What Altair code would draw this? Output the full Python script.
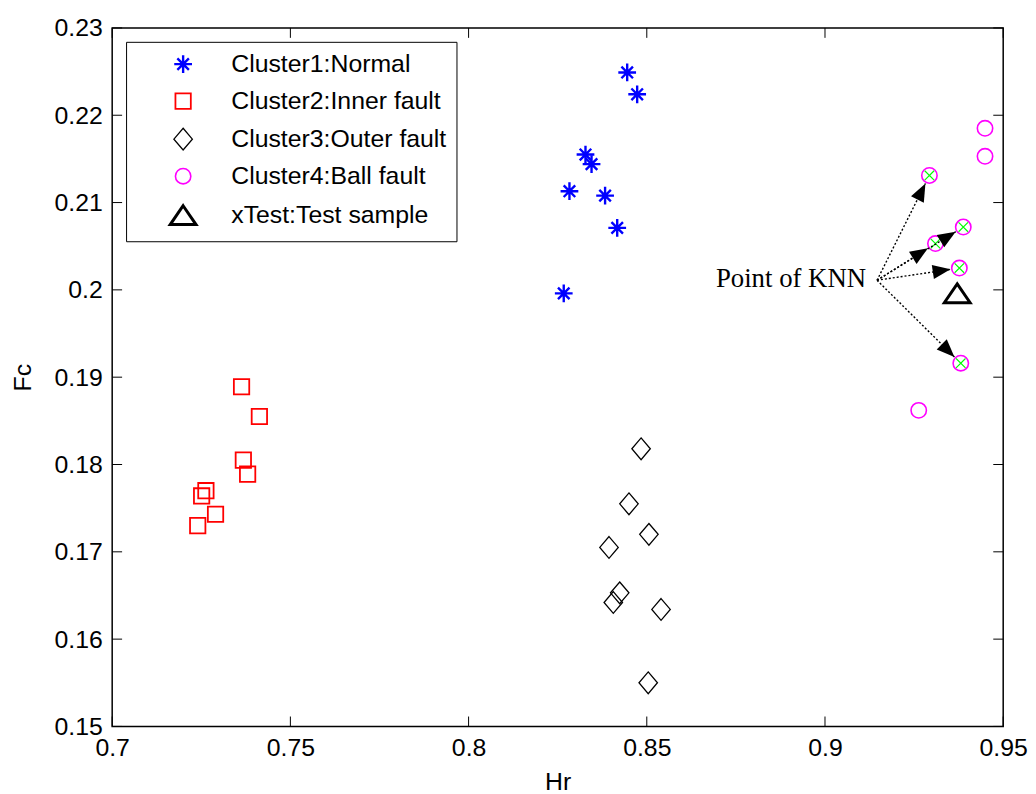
import math
import altair as alt
import pandas as pd

# ---------------- data ----------------
groups = ["Cluster1:Normal", "Cluster2:Inner fault", "Cluster3:Outer fault",
          "Cluster4:Ball fault", "xTest:Test sample"]

c1_x = [0.8445, 0.8473, 0.8328, 0.8345, 0.8283, 0.8383, 0.8417, 0.8267]
c1_y = [0.2249, 0.2224, 0.2155, 0.2144, 0.2113, 0.2108, 0.2071, 0.1996]
c2_x = [0.7363, 0.7413, 0.7368, 0.7380, 0.7263, 0.7251, 0.7290, 0.7240]
c2_y = [0.1889, 0.1855, 0.1805, 0.1789, 0.1770, 0.1764, 0.1743, 0.1730]
c3_x = [0.8484, 0.8450, 0.8506, 0.8394, 0.8424, 0.8406, 0.8540, 0.8504]
c3_y = [0.1818, 0.1755, 0.1720, 0.1705, 0.1653, 0.1642, 0.1634, 0.1550]
c4_x = [0.9449, 0.9449, 0.9293, 0.9388, 0.9310, 0.9377, 0.9381, 0.9263]
c4_y = [0.2185, 0.2153, 0.2131, 0.2072, 0.2053, 0.2025, 0.1916, 0.1862]
test_x = [0.9371]
test_y = [0.1996]

knn_idx = [2, 3, 4, 5, 6]          # Cluster4 points marked as nearest neighbours
note_text = "Point of KNN"
note_x = [0.9146]
note_y = [0.2011]

x_ticks = [0.7, 0.75, 0.8, 0.85, 0.9, 0.95]
y_ticks = [0.15, 0.16, 0.17, 0.18, 0.19, 0.20, 0.21, 0.22, 0.23]

# ---------------- styling ----------------
W, H = 898, 704
X_DOM = [0.7, 0.95]
Y_DOM = [0.15, 0.23]
FONT = "Liberation Sans"

STAR = "M0,-1L0,1M-1,0L1,0M-0.65,-0.65L0.65,0.65M-0.65,0.65L0.65,-0.65"
DIAMOND = "M0,-1L0.85,0L0,1L-0.85,0Z"
TRIANGLE = "M0,-0.73L1,0.73L-1,0.73Z"
XMARK = "M-1,-1L1,1M-1,1L1,-1"
ARROW = "M0,0L-2,-0.8L-2,0.8Z"

g_colors = ["#0000ff", "#ff0000", "#000000", "#ff00ff", "#000000"]
g_shapes = [STAR, "square", DIAMOND, "circle", TRIANGLE]
g_sizes = [320, 240, 480, 240, 676]
g_strokes = [2.4, 1.8, 1.3, 1.6, 3.0]

rows = []
for g, xs, ys in zip(groups, [c1_x, c2_x, c3_x, c4_x, test_x],
                     [c1_y, c2_y, c3_y, c4_y, test_y]):
    for a, b in zip(xs, ys):
        rows.append({"group": g, "Hr": a, "Fc": b})
pts = pd.DataFrame(rows)

knn = pd.DataFrame({"Hr": [c4_x[i] for i in knn_idx], "Fc": [c4_y[i] for i in knn_idx]})

# arrows from the note anchor to each neighbour, tip stopping just short of the marker
px_x = W / (X_DOM[1] - X_DOM[0])
px_y = H / (Y_DOM[1] - Y_DOM[0])
arows = []
for i in knn_idx:
    tx, ty = c4_x[i], c4_y[i]
    dxp = (tx - note_x[0]) * px_x
    dyp = -(ty - note_y[0]) * px_y
    dist = math.hypot(dxp, dyp)
    back = 9.0
    tipx = tx - dxp / dist * back / px_x
    tipy = ty + dyp / dist * back / px_y
    ang = math.degrees(math.atan2(dyp, dxp)) % 360
    arows.append({"x0": note_x[0], "y0": note_y[0], "x1": tipx, "y1": tipy, "ang": ang})
arr = pd.DataFrame(arows)

xscale = alt.Scale(domain=X_DOM, nice=False, zero=False)
yscale = alt.Scale(domain=Y_DOM, nice=False, zero=False)
xaxis = alt.Axis(values=x_ticks, format="~g", tickSize=0, domain=False, grid=False,
                 labelPadding=9, titlePadding=10, labelFlush=False)
yaxis = alt.Axis(values=y_ticks, format="~g", tickSize=0, domain=False, grid=False,
                 labelPadding=10, titlePadding=19, labelFlush=False)


def X(f):
    return alt.X(f, type="quantitative", scale=xscale, axis=xaxis, title="Hr")


def Y(f):
    return alt.Y(f, type="quantitative", scale=yscale, axis=yaxis, title="Fc")


legend = alt.Legend(orient="none", legendX=14, legendY=14, title=None,
                    strokeColor="black", fillColor="white", padding=10,
                    labelFont=FONT, labelFontSize=25, labelColor="black",
                    rowPadding=10.3, symbolOffset=33, labelOffset=34, labelLimit=0)

points = alt.Chart(pts).mark_point(filled=False, opacity=1).encode(
    x=X("Hr"), y=Y("Fc"),
    color=alt.Color("group:N", scale=alt.Scale(type="ordinal", domain=groups, range=g_colors), legend=legend),
    shape=alt.Shape("group:N", scale=alt.Scale(type="ordinal", domain=groups, range=g_shapes), legend=legend),
    size=alt.Size("group:N", scale=alt.Scale(type="ordinal", domain=groups, range=g_sizes), legend=legend),
    strokeWidth=alt.StrokeWidth("group:N", scale=alt.Scale(type="ordinal", domain=groups, range=g_strokes), legend=legend),
)

xmarks = alt.Chart(knn).mark_point(filled=False, opacity=1, shape=XMARK, size=90,
                                   color="#00ff00", strokeWidth=1.2).encode(
    x=X("Hr"), y=Y("Fc"))

lines = alt.Chart(arr).mark_rule(color="black", strokeWidth=1.4, strokeDash=[2, 2]).encode(
    x=X("x0"), y=Y("y0"), x2="x1", y2="y1")

heads = alt.Chart(arr).mark_point(filled=True, opacity=1, shape=ARROW, size=324,
                                  color="black").encode(
    x=X("x1"), y=Y("y1"), angle=alt.Angle("ang:Q", scale=None))

note = alt.Chart(pd.DataFrame({"x": note_x, "y": note_y, "t": [note_text]})).mark_text(
    align="right", baseline="alphabetic", dx=-11, dy=7,
    font="Liberation Serif", fontSize=27, color="black").encode(
    x=X("x"), y=Y("y"), text="t:N")

xt = pd.DataFrame({"v": x_ticks})
yt = pd.DataFrame({"v": y_ticks})
tick_bot = alt.Chart(xt).mark_rule(color="black", strokeWidth=1).encode(
    x=X("v"), y=alt.value(H), y2=alt.value(H - 10))
tick_top = alt.Chart(xt).mark_rule(color="black", strokeWidth=1).encode(
    x=X("v"), y=alt.value(0), y2=alt.value(10))
tick_left = alt.Chart(yt).mark_rule(color="black", strokeWidth=1).encode(
    y=Y("v"), x=alt.value(0), x2=alt.value(10))
tick_right = alt.Chart(yt).mark_rule(color="black", strokeWidth=1).encode(
    y=Y("v"), x=alt.value(W), x2=alt.value(W - 10))

chart = alt.layer(
    tick_bot, tick_top, tick_left, tick_right, points, xmarks, lines, heads, note
).properties(
    width=W, height=H,
    autosize=alt.AutoSizeParams(type="none"),
    padding={"left": 105, "top": 17, "right": 25, "bottom": 65},
    background="white",
).configure_view(
    stroke="black", strokeWidth=1.5
).configure_axis(
    labelFont=FONT, labelFontSize=25, labelColor="black",
    titleFont=FONT, titleFontSize=25, titleColor="black", titleFontWeight="normal",
)

chart.save("out.html", embed_options={"renderer": "svg", "actions": False})
